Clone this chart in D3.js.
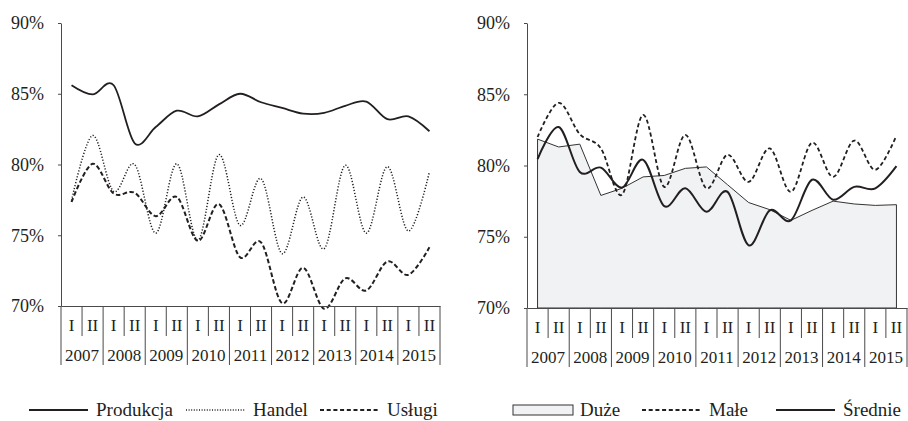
<!DOCTYPE html>
<html>
<head>
<meta charset="utf-8">
<script src="https://cdn.jsdelivr.net/npm/d3@7"></script>
<style>
body { margin: 0; background: #fff; }
svg { display: block; }
</style>
</head>
<body>
<div id="chart"></div>
<script>
// kategorie: rok x półrocze
const years = ["2007", "2008", "2009", "2010", "2011", "2012", "2013", "2014", "2015"];
const halves = ["I", "II"];
const periods = years.flatMap(y => halves.map(h => y + "-" + h));
const yTicks = [70, 75, 80, 85, 90];

// lewy wykres (%)
const produkcja = [85.6, 84.95, 85.6, 81.5, 82.65, 83.8, 83.4, 84.25, 85.0, 84.4, 84.0, 83.6, 83.65, 84.15, 84.45, 83.2, 83.4, 82.35];
const handel = [77.45, 82.05, 78.1, 80.0, 75.15, 80.05, 74.65, 80.7, 75.7, 79.0, 73.7, 77.7, 74.05, 79.95, 75.15, 79.85, 75.3, 79.5];
const uslugi = [77.35, 80.05, 77.95, 78.0, 76.35, 77.7, 74.6, 77.2, 73.45, 74.5, 70.2, 72.7, 69.8, 71.95, 71.1, 73.15, 72.2, 74.15];

// prawy wykres (%)
const duze = [81.85, 81.3, 81.5, 77.9, 78.4, 79.2, 79.3, 79.8, 79.9, 78.65, 77.4, 76.9, 76.15, 76.85, 77.5, 77.3, 77.2, 77.25];
const male = [82.0, 84.4, 82.2, 81.2, 77.95, 83.55, 78.5, 82.15, 78.4, 80.75, 78.85, 81.2, 78.15, 81.6, 79.2, 81.75, 79.7, 82.1];
const srednie = [80.45, 82.7, 79.55, 79.85, 78.45, 80.4, 77.15, 78.4, 76.75, 78.15, 74.4, 76.85, 76.15, 79.0, 77.6, 78.5, 78.4, 79.95];

const ink = "#231f20";
const axisColor = "#4a4a4a";
const serif = "'Liberation Serif', 'Times New Roman', serif";

const svg = d3.select("#chart")
    .append("svg")
    .attr("width", 908)
    .attr("height", 421)
    .attr("font-family", serif);

// czyści style, które d3.axis ustawia na grupie
function plainAxis(sel, size) {
    sel.attr("font-family", null).attr("font-size", size);
    sel.selectAll("text").attr("fill", ink);
}

function createPanel(x0, x1, yTop, yBottom) {
    const x = d3.scaleBand().domain(periods).range([x0, x1]);
    const xYear = d3.scaleBand().domain(years).range([x0, x1]);
    const y = d3.scaleLinear().domain([70, 90]).range([yBottom, yTop]);
    const g = svg.append("g");
    const plot = g.append("g");
    const axes = g.append("g");

    // oś Y
    const ya = axes.append("g")
        .attr("transform", `translate(${x0},0)`)
        .call(d3.axisLeft(y).tickValues(yTicks).tickSize(3).tickSizeOuter(0).tickPadding(14).tickFormat(d => d + "%"));
    ya.select(".domain").attr("stroke", axisColor);
    ya.selectAll(".tick line").attr("stroke", axisColor);
    plainAxis(ya, 18);

    // oś X - półrocza
    const xa = axes.append("g")
        .attr("transform", `translate(0,${yBottom})`)
        .call(d3.axisBottom(x).tickSize(0).tickSizeOuter(0).tickPadding(13).tickFormat(d => d.split("-")[1]));
    xa.select(".domain").attr("stroke", axisColor);
    plainAxis(xa, 17);

    // oś X - lata
    const xy = axes.append("g")
        .attr("transform", `translate(0,${yBottom})`)
        .call(d3.axisBottom(xYear).tickSize(0).tickPadding(43));
    xy.select(".domain").remove();
    plainAxis(xy, 17);

    // separatory kategorii
    axes.selectAll(".sep-half")
        .data(periods.filter(p => p.endsWith("-II")))
        .join("line")
        .attr("x1", d => x(d)).attr("x2", d => x(d))
        .attr("y1", yBottom).attr("y2", yBottom + 30)
        .attr("stroke", axisColor);
    axes.selectAll(".sep-year")
        .data(years.map(d => xYear(d)).concat([x1]))
        .join("line")
        .attr("x1", d => d).attr("x2", d => d)
        .attr("y1", yBottom).attr("y2", yBottom + 59)
        .attr("stroke", axisColor);

    const cx = (d, i) => x(periods[i]) + x.bandwidth() / 2;
    return { x, y, plot, cx };
}

const left = createPanel(61, 440, 23, 306);
const right = createPanel(527, 907, 23, 308);

function smoothLine(panel, values, width, dash) {
    const line = d3.line()
        .x(panel.cx)
        .y(d => panel.y(d))
        .curve(d3.curveCatmullRom.alpha(0));
    panel.plot.append("path")
        .datum(values)
        .attr("d", line)
        .attr("fill", "none")
        .attr("stroke", ink)
        .attr("stroke-width", width)
        .attr("stroke-dasharray", dash);
}

// lewy
smoothLine(left, produkcja, 1.8, null);
smoothLine(left, handel, 1.5, "1.2,1.8");
smoothLine(left, uslugi, 2, "4.5,2.5");

// prawy: obszar Duże
const area = d3.area()
    .x(right.cx)
    .y0(right.y(70))
    .y1(d => right.y(d));
right.plot.append("path")
    .datum(duze)
    .attr("d", area)
    .attr("fill", "#f1f2f4")
    .attr("stroke", "#333")
    .attr("stroke-width", 1);
smoothLine(right, male, 1.8, "4,2.7");
smoothLine(right, srednie, 2, null);

// legenda
const legendY = 410;
const legend = svg.append("g").attr("font-size", 19).attr("fill", ink);
const items = [
    { label: "Produkcja", x: 29, type: "line", dash: null, w: 1.8 },
    { label: "Handel", x: 186, type: "line", dash: "1,1.6", w: 1.3 },
    { label: "Usługi", x: 320, type: "line", dash: "4,2.7", w: 1.8 },
    { label: "Duże", x: 513, type: "box" },
    { label: "Małe", x: 642, type: "line", dash: "4,2.7", w: 1.8 },
    { label: "Średnie", x: 776, type: "line", dash: null, w: 1.8 }
];
items.forEach(it => {
    if (it.type === "box") {
        legend.append("rect")
            .attr("x", it.x).attr("y", legendY - 5)
            .attr("width", 60).attr("height", 10)
            .attr("fill", "#f1f2f4").attr("stroke", "#333").attr("stroke-width", 1);
    } else {
        legend.append("line")
            .attr("x1", it.x).attr("x2", it.x + 59)
            .attr("y1", legendY).attr("y2", legendY)
            .attr("stroke", ink).attr("stroke-width", it.w)
            .attr("stroke-dasharray", it.dash);
    }
    legend.append("text")
        .attr("x", it.x + 67)
        .attr("y", legendY + 6)
        .text(it.label);
});
</script>
</body>
</html>
